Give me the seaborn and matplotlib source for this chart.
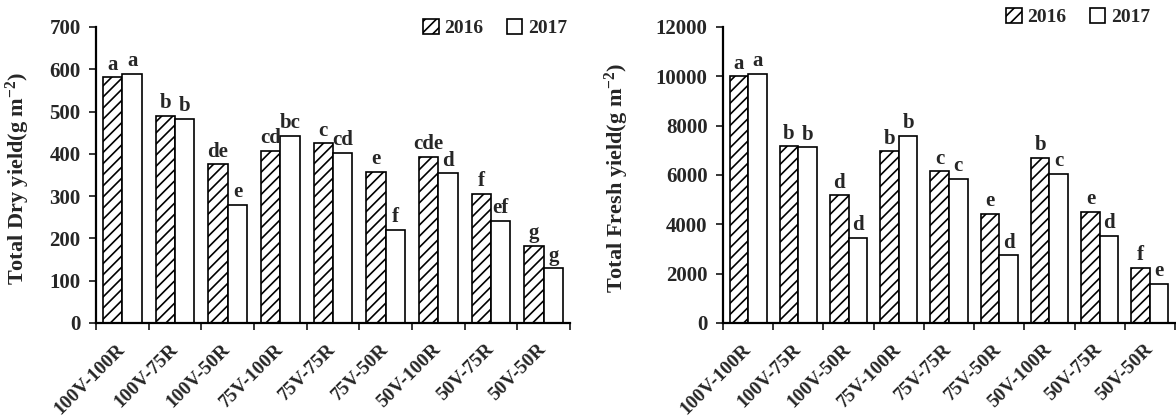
import matplotlib
matplotlib.use("Agg")
import matplotlib.pyplot as plt
import matplotlib.transforms as mtrans
import seaborn as sns
import pandas as pd
import numpy as np
from matplotlib.patches import Patch

categories = ["100V-100R", "100V-75R", "100V-50R", "75V-100R", "75V-75R",
              "75V-50R", "50V-100R", "50V-75R", "50V-50R"]
years = ["2016", "2017"]

dry_2016 = [581, 489, 375, 407, 425, 357, 392, 306, 183]
dry_2017 = [590, 482, 279, 442, 403, 221, 354, 241, 129]
dry_let_2016 = ["a", "b", "de", "cd", "c", "e", "cde", "f", "g"]
dry_let_2017 = ["a", "b", "e", "bc", "cd", "f", "d", "ef", "g"]

fresh_2016 = [10000, 7160, 5170, 6960, 6150, 4420, 6690, 4490, 2245]
fresh_2017 = [10110, 7120, 3450, 7570, 5840, 2745, 6040, 3530, 1580]
fresh_let_2016 = ["a", "b", "d", "b", "c", "e", "b", "e", "f"]
fresh_let_2017 = ["a", "b", "d", "b", "c", "d", "c", "d", "e"]

dry_ticks = [0, 100, 200, 300, 400, 500, 600, 700]
fresh_ticks = [0, 2000, 4000, 6000, 8000, 10000, 12000]

sns.set_theme(style="ticks")
plt.rcParams['font.family'] = ['Liberation Serif', 'DejaVu Serif']
plt.rcParams['font.weight'] = 'bold'
plt.rcParams['hatch.linewidth'] = 1.2
plt.rcParams['mathtext.fontset'] = 'custom'
plt.rcParams['mathtext.rm'] = 'Liberation Serif:bold'
plt.rcParams['mathtext.it'] = 'Liberation Serif:bold'
plt.rcParams['mathtext.bf'] = 'Liberation Serif:bold'

W, H = 1176, 418
fig = plt.figure(figsize=(W / 100, H / 100), dpi=100)
ax1 = fig.add_axes([96 / W, 95 / H, 474 / W, 296 / H])
ax2 = fig.add_axes([723 / W, 95 / H, 452 / W, 296 / H])

TFS = 15
XFS = 14
LFS = 16
GFS = 14


def draw(ax, v16, v17, l16, l17, ticks, ylabel, ylab_x, legend_anchor):
    df = pd.DataFrame({
        "cat": categories * 2,
        "year": [years[0]] * len(categories) + [years[1]] * len(categories),
        "val": list(v16) + list(v17),
    })
    sns.barplot(data=df, x="cat", y="val", hue="year", order=categories,
                hue_order=years, palette=["white", "white"], edgecolor="black",
                linewidth=1.2, width=0.74, ax=ax, legend=False, errorbar=None)
    for bar in ax.containers[0]:
        bar.set_hatch("///")
    for cont, labs in zip(ax.containers, [l16, l17]):
        for bar, lab in zip(cont, labs):
            ax.annotate(lab, (bar.get_x() + bar.get_width() / 2, bar.get_height()),
                        xytext=(0, 2), textcoords="offset points",
                        ha="center", va="bottom", fontsize=TFS, fontweight="bold")
    ax.set_ylim(ticks[0], ticks[-1])
    ax.set_yticks(ticks)
    ax.set_yticklabels([str(t) for t in ticks], fontsize=TFS, fontweight="bold")
    ax.set_xlim(-0.5, len(categories) - 0.5)
    ax.set_xticks(np.arange(len(categories)))
    ax.set_xticklabels(categories, rotation=45, ha="right", va="center",
                       rotation_mode="anchor", fontsize=XFS, fontweight="bold")
    off = mtrans.ScaledTranslation(11 / 100, 0, fig.dpi_scale_trans)
    for lab in ax.get_xticklabels():
        lab.set_transform(lab.get_transform() + off)
    ax.tick_params(axis="x", which="major", length=0, pad=17)
    ax.set_xticks(np.arange(-0.5, len(categories)), minor=True)
    ax.tick_params(axis="x", which="minor", length=5, width=1.3, direction="out")
    ax.tick_params(axis="y", length=5, width=1.3, direction="out", pad=6)
    for s in ["top", "right"]:
        ax.spines[s].set_visible(False)
    for s in ["left", "bottom"]:
        ax.spines[s].set_linewidth(1.6)
        ax.spines[s].set_color("black")
    ax.set_xlabel("")
    ax.set_ylabel(ylabel, fontsize=LFS, fontweight="bold")
    ax.yaxis.set_label_coords(ylab_x, 0.49)
    handles = [Patch(facecolor="white", edgecolor="black", hatch="///", linewidth=1.2),
               Patch(facecolor="white", edgecolor="black", linewidth=1.2)]
    ax.legend(handles, years, ncol=2, frameon=False, loc="center left",
              bbox_to_anchor=legend_anchor, bbox_transform=fig.transFigure,
              borderpad=0, borderaxespad=0,
              handlelength=0.8, handleheight=0.8, handletextpad=0.3,
              columnspacing=1.2, prop={"weight": "bold", "size": GFS})


draw(ax1, dry_2016, dry_2017, dry_let_2016, dry_let_2017, dry_ticks,
     r"Total Dry yield(g m$^{-2}$)", (32 - 96) / 474, (423 / W, 1 - 28 / H))
draw(ax2, fresh_2016, fresh_2017, fresh_let_2016, fresh_let_2017, fresh_ticks,
     r"Total Fresh yield(g m$^{-2}$)", (631 - 723) / 452, (1006 / W, 1 - 17 / H))

fig.savefig("out.png", dpi=100)
